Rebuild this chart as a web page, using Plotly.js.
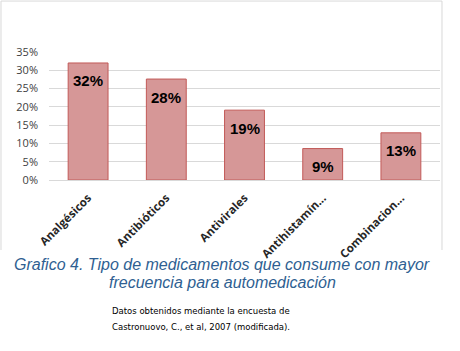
<!DOCTYPE html>
<html>
<head>
<meta charset="utf-8">
<script src="https://cdn.plot.ly/plotly-3.0.1.min.js"></script>
<style>
html,body{margin:0;padding:0;background:#fff;}
#chart{width:460px;height:351px;}
</style>
</head>
<body>
<div id="chart"></div>
<script>
const categories = ["Analgésicos", "Antibióticos", "Antivirales", "Antihistamín...", "Combinacion..."];
const values = [0.32, 0.276, 0.191, 0.086, 0.129];
const valueLabels = ["32%", "28%", "19%", "9%", "13%"];
const yTickVals = [0, 0.05, 0.10, 0.15, 0.20, 0.25, 0.30, 0.35];
const yTickText = ["0%", "5%", "10%", "15%", "20%", "25%", "30%", "35%"];
const titleLines = ["Grafico 4. Tipo de medicamentos que consume con mayor", "frecuencia para automedicación"];
const noteLines = ["Datos obtenidos mediante la encuesta de", "Castronuovo, C., et al, 2007 (modificada)."];

const trace = {
  type: "bar",
  x: categories,
  y: values,
  marker: {color: "#d69797", line: {color: "#c25a58", width: 1}},
  hoverinfo: "none"
};

const annotations = categories.map((c, i) => ({
  x: c, y: values[i], xref: "x", yref: "y",
  text: valueLabels[i], showarrow: false,
  yanchor: "middle", yshift: -18,
  font: {family: "Liberation Sans, Arial, sans-serif", size: 15, color: "#000", weight: "bold"}
}));

const titleY = [-0.664, -0.797];
titleLines.forEach((t, i) => annotations.push({
  xref: "paper", yref: "paper", x: 0.4425, y: titleY[i],
  xanchor: "center", yanchor: "middle", showarrow: false,
  text: "<i>" + t + "</i>",
  font: {family: "Liberation Sans, Arial, sans-serif", size: 16, color: "#2f5f92"}
}));

const noteY = [-1.027, -1.145];
noteLines.forEach((t, i) => annotations.push({
  xref: "paper", yref: "paper", x: 0.156, y: noteY[i],
  xanchor: "left", yanchor: "middle", showarrow: false,
  text: t,
  font: {family: "DejaVu Sans, sans-serif", size: 8.5, color: "#000"}
}));

const layout = {
  width: 460, height: 351,
  margin: {l: 49, r: 20, t: 52, b: 171, pad: 0},
  paper_bgcolor: "#fff", plot_bgcolor: "#fff",
  showlegend: false,
  bargap: 0.49,
  xaxis: {
    type: "category", tickangle: -45, showgrid: false, zeroline: false,
    showline: false, ticks: "", ticklabelstandoff: 8,
    tickfont: {family: "Open Sans, sans-serif", size: 11.5, color: "#262626", weight: "bold"}
  },
  yaxis: {
    range: [0, 0.35], tickvals: yTickVals, ticktext: yTickText,
    showgrid: true, gridcolor: "#d9d9d9", gridwidth: 1,
    zeroline: true, zerolinecolor: "#d9d9d9", showline: false, ticks: "",
    ticklabelstandoff: 10,
    tickfont: {family: "Open Sans, sans-serif", size: 11, color: "#404040"}
  },
  shapes: [{
    type: "path", xref: "paper", yref: "paper",
    path: "M -0.1228 -0.547 L -0.1228 1.398 L 1.0051 1.398 L 1.0051 -0.547",
    line: {color: "#d9d9d9", width: 1}
  }],
  annotations: annotations
};

Plotly.newPlot("chart", [trace], layout, {staticPlot: true, displayModeBar: false});
</script>
</body>
</html>
